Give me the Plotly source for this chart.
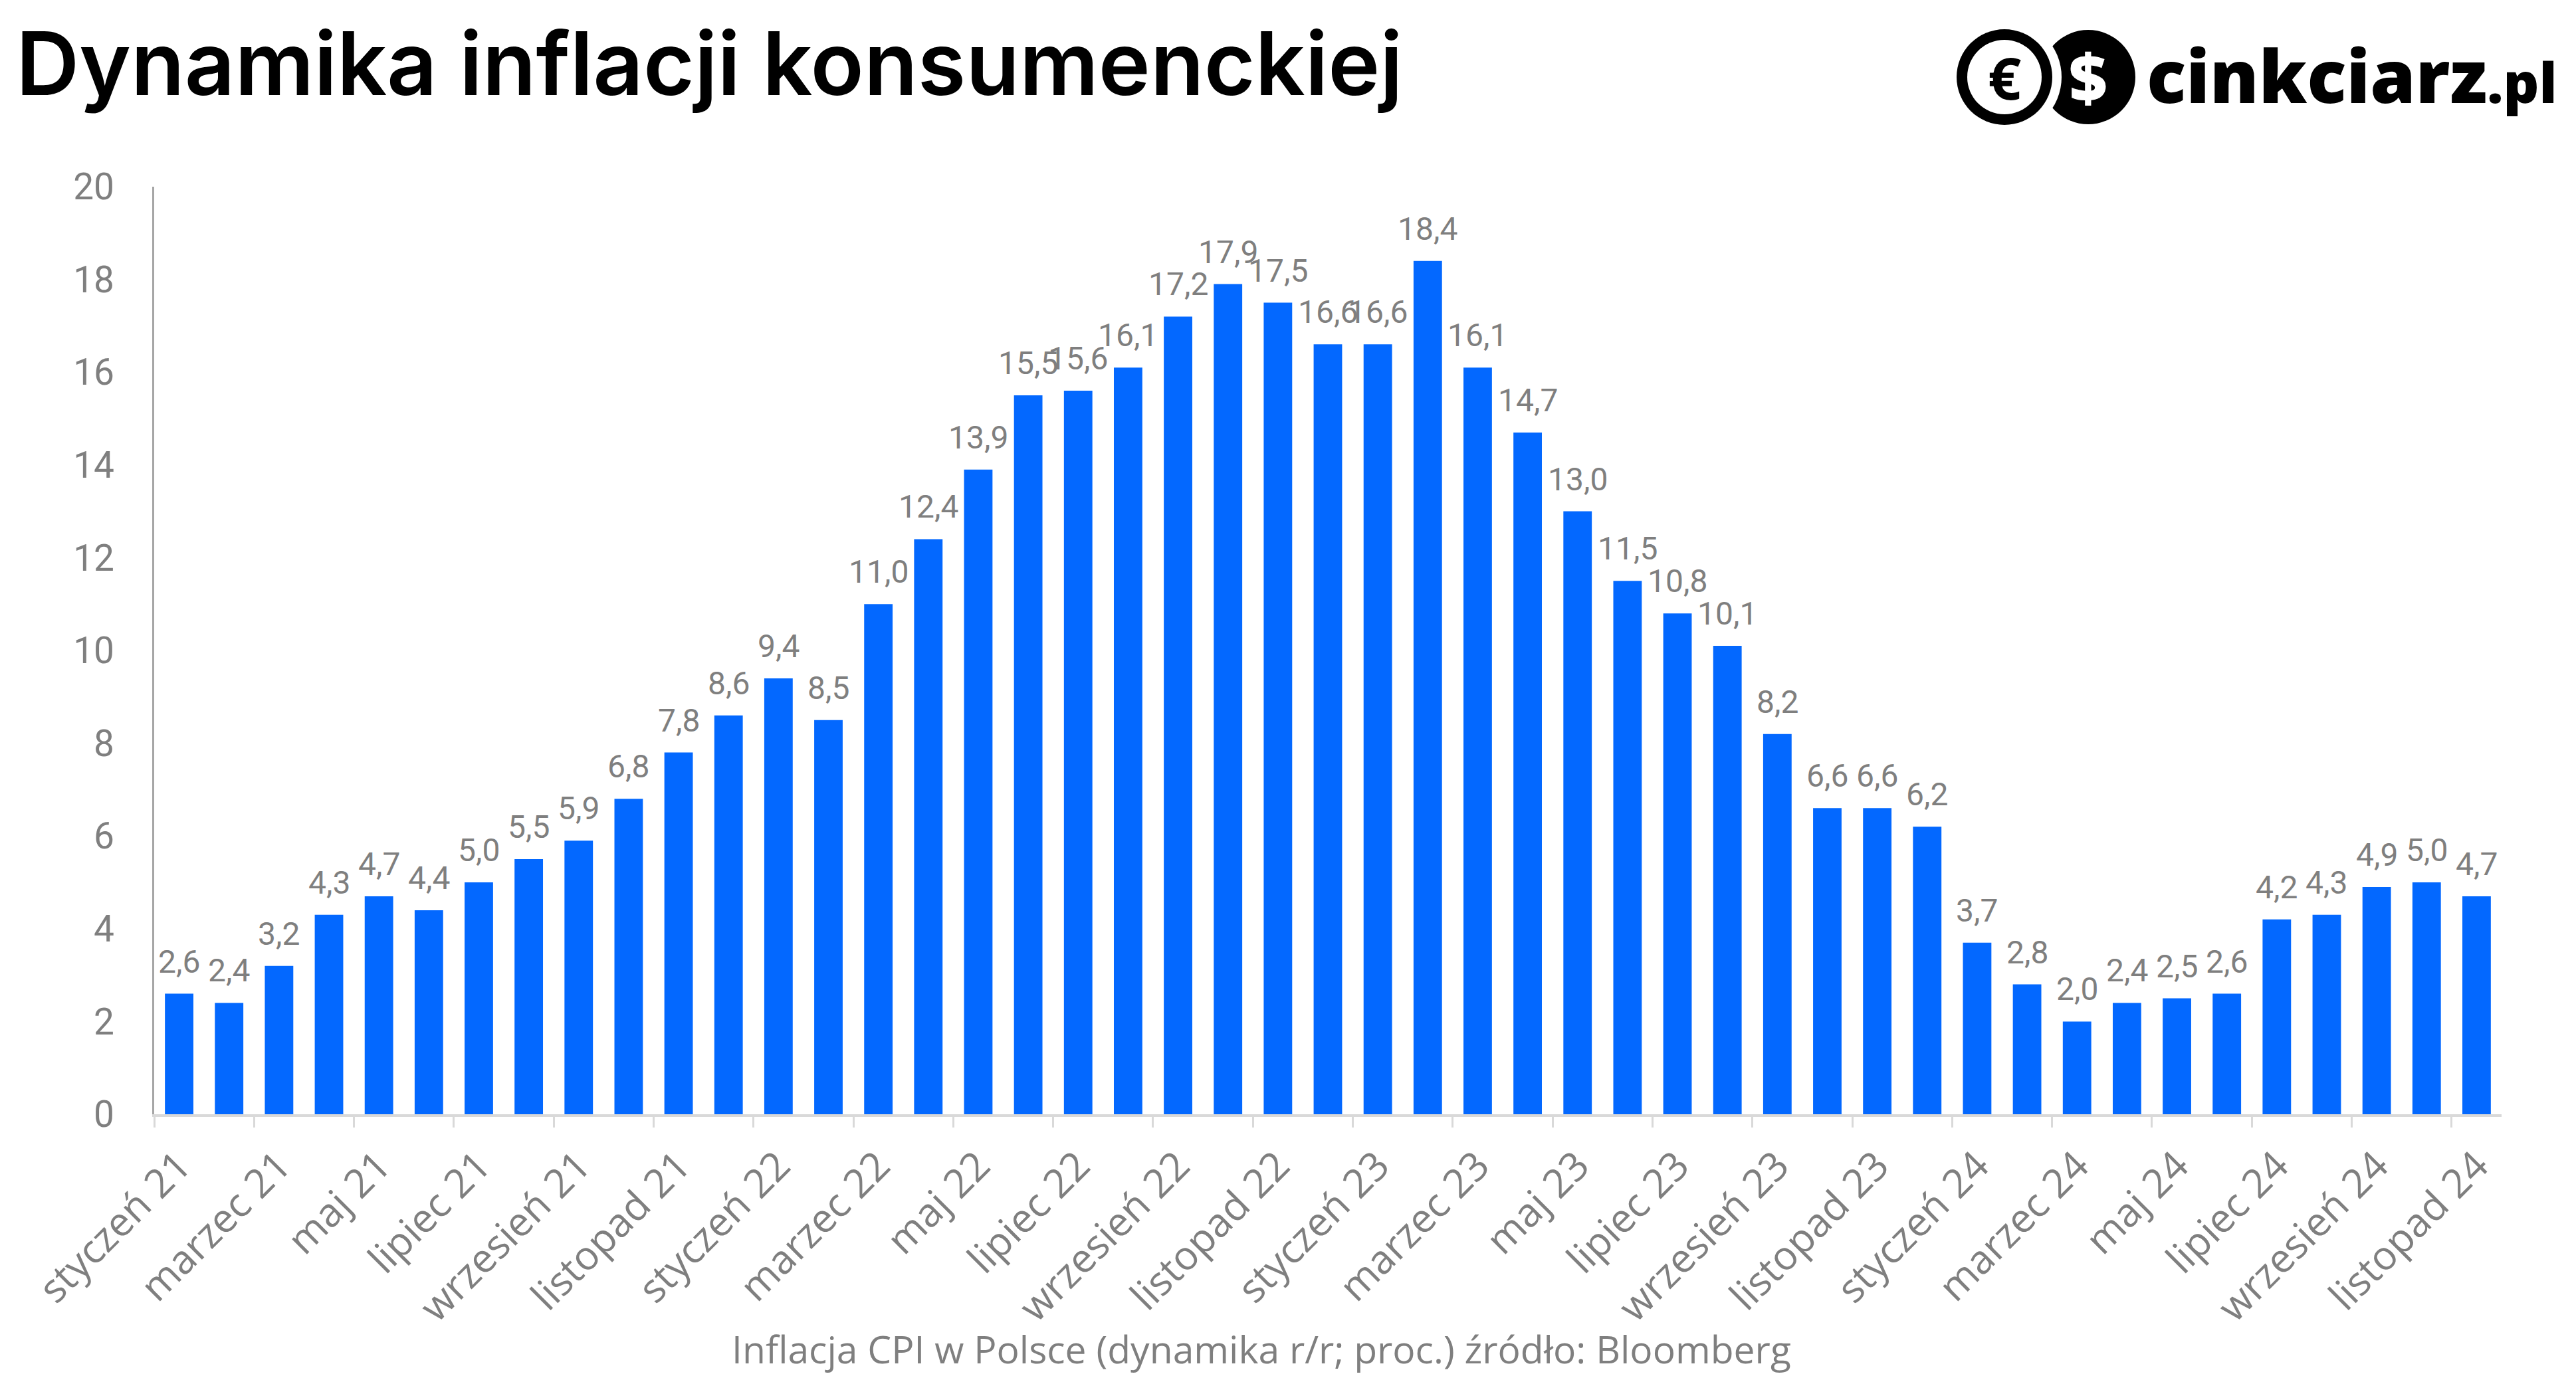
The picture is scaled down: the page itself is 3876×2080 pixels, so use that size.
import plotly.graph_objects as go

# ---- data ----
months = ["styczeń", "luty", "marzec", "kwiecień", "maj", "czerwiec",
          "lipiec", "sierpień", "wrzesień", "październik", "listopad", "grudzień"]
years = ["21", "22", "23", "24"]
categories = [f"{m} {y}" for y in years for m in months][:47]
cpi = [2.6, 2.4, 3.2, 4.3, 4.7, 4.4, 5.0, 5.5, 5.9, 6.8, 7.8, 8.6,
       9.4, 8.5, 11.0, 12.4, 13.9, 15.5, 15.6, 16.1, 17.2, 17.9, 17.5, 16.6,
       16.6, 18.4, 16.1, 14.7, 13.0, 11.5, 10.8, 10.1, 8.2, 6.6, 6.6, 6.2,
       3.7, 2.8, 2.0, 2.4, 2.5, 2.6, 4.2, 4.3, 4.9, 5.0, 4.7]
y_ticks = list(range(0, 21, 2))
title_text = "Dynamika inflacji konsumenckiej"
caption_text = "Inflacja CPI w Polsce (dynamika r/r; proc.) źródło: Bloomberg"

OFF = 8  # default page body margin
PAGE_W, PAGE_H = 3876, 2080
W, H = PAGE_W - OFF, PAGE_H - OFF
# plot area in page pixels
X0, X1, Y0, Y1 = 232, 3764, 281, 1677
L, R, T, B = X0 - OFF, W - (X1 - OFF), Y0 - OFF, H - (Y1 - OFF)
PW, PH = X1 - X0, Y1 - Y0


def px(x):
    return (x - X0) / PW


def py(y):
    return (Y1 - y) / PH


BLUE = "#0368ff"
GREY = "#7f7f7f"

fig = go.Figure()
fig.add_trace(go.Bar(x=categories, y=cpi, marker=dict(color=BLUE, line=dict(width=0)),
                     hoverinfo="skip"))

annotations = []
for c, v in zip(categories, cpi):
    annotations.append(dict(x=c, y=v, xref="x", yref="y", text=f"{v:.1f}".replace(".", ","),
                            showarrow=False, yanchor="bottom", xanchor="center", yshift=18,
                            font=dict(family="Roboto", size=48, color=GREY)))

# title
annotations.append(dict(x=px(22), y=py(95), xref="paper", yref="paper", text=title_text,
                        showarrow=False, xanchor="left", yanchor="middle",
                        font=dict(family="Inter", size=132, color="#000000", weight=600)))
# caption
annotations.append(dict(x=px(1898), y=py(2030), xref="paper", yref="paper", text=caption_text,
                        showarrow=False, xanchor="center", yanchor="middle",
                        font=dict(family="Open Sans", size=57, color=GREY)))

# logo text
annotations.append(dict(x=px(3228), y=py(112), xref="paper", yref="paper",
                        text="cinkciarz<span style='font-size:84px'>.pl</span>",
                        showarrow=False, xanchor="left", yanchor="middle",
                        font=dict(family="Open Sans", size=110, color="#000000", weight=800)))
annotations.append(dict(x=px(3016), y=py(116), xref="paper", yref="paper", text="€",
                        showarrow=False, xanchor="center", yanchor="middle",
                        font=dict(family="Open Sans", size=88, color="#000000", weight=700)))
annotations.append(dict(x=px(3142), y=py(114), xref="paper", yref="paper", text="$",
                        showarrow=False, xanchor="center", yanchor="middle",
                        font=dict(family="Open Sans", size=100, color="#ffffff", weight=800)))

shapes = []


def circle(cx, cy, r, fill):
    return dict(type="circle", xref="paper", yref="paper",
                x0=px(cx - r), x1=px(cx + r), y0=py(cy + r), y1=py(cy - r),
                fillcolor=fill, line=dict(color=fill, width=0), layer="above")


# dollar coin (black disk), cut by white gap around euro coin, then euro ring
shapes.append(circle(3142, 116, 71, "#000000"))
shapes.append(circle(3016, 116, 86, "#ffffff"))
shapes.append(circle(3016, 116, 72, "#000000"))
shapes.append(circle(3016, 116, 56, "#ffffff"))

fig.update_layout(
    width=W, height=H,
    margin=dict(l=L, r=R, t=T, b=B, pad=0),
    paper_bgcolor="white", plot_bgcolor="white",
    showlegend=False,
    bargap=0.43,
    annotations=annotations,
    shapes=shapes,
    xaxis=dict(
        type="category",
        tickmode="linear", tick0=0, dtick=2,
        tickson="boundaries",
        ticks="outside", ticklen=16, tickwidth=3, tickcolor="#d9d9d9",
        showline=True, linecolor="#d9d9d9", linewidth=4,
        showgrid=False, zeroline=False,
        tickangle=-45,
        tickfont=dict(family="Open Sans", size=60, color=GREY),
        ticklabelstandoff=14,
        range=[-0.5, 46.5],
    ),
    yaxis=dict(
        range=[0, 20],
        tickmode="array", tickvals=y_ticks, ticktext=[str(t) for t in y_ticks],
        showgrid=False, zeroline=False,
        showline=True, linecolor="#a6a6a6", linewidth=3,
        ticks="",
        tickfont=dict(family="Roboto", size=55, color=GREY),
        ticklabelstandoff=46,
    ),
)

fig.write_html("out.html")
